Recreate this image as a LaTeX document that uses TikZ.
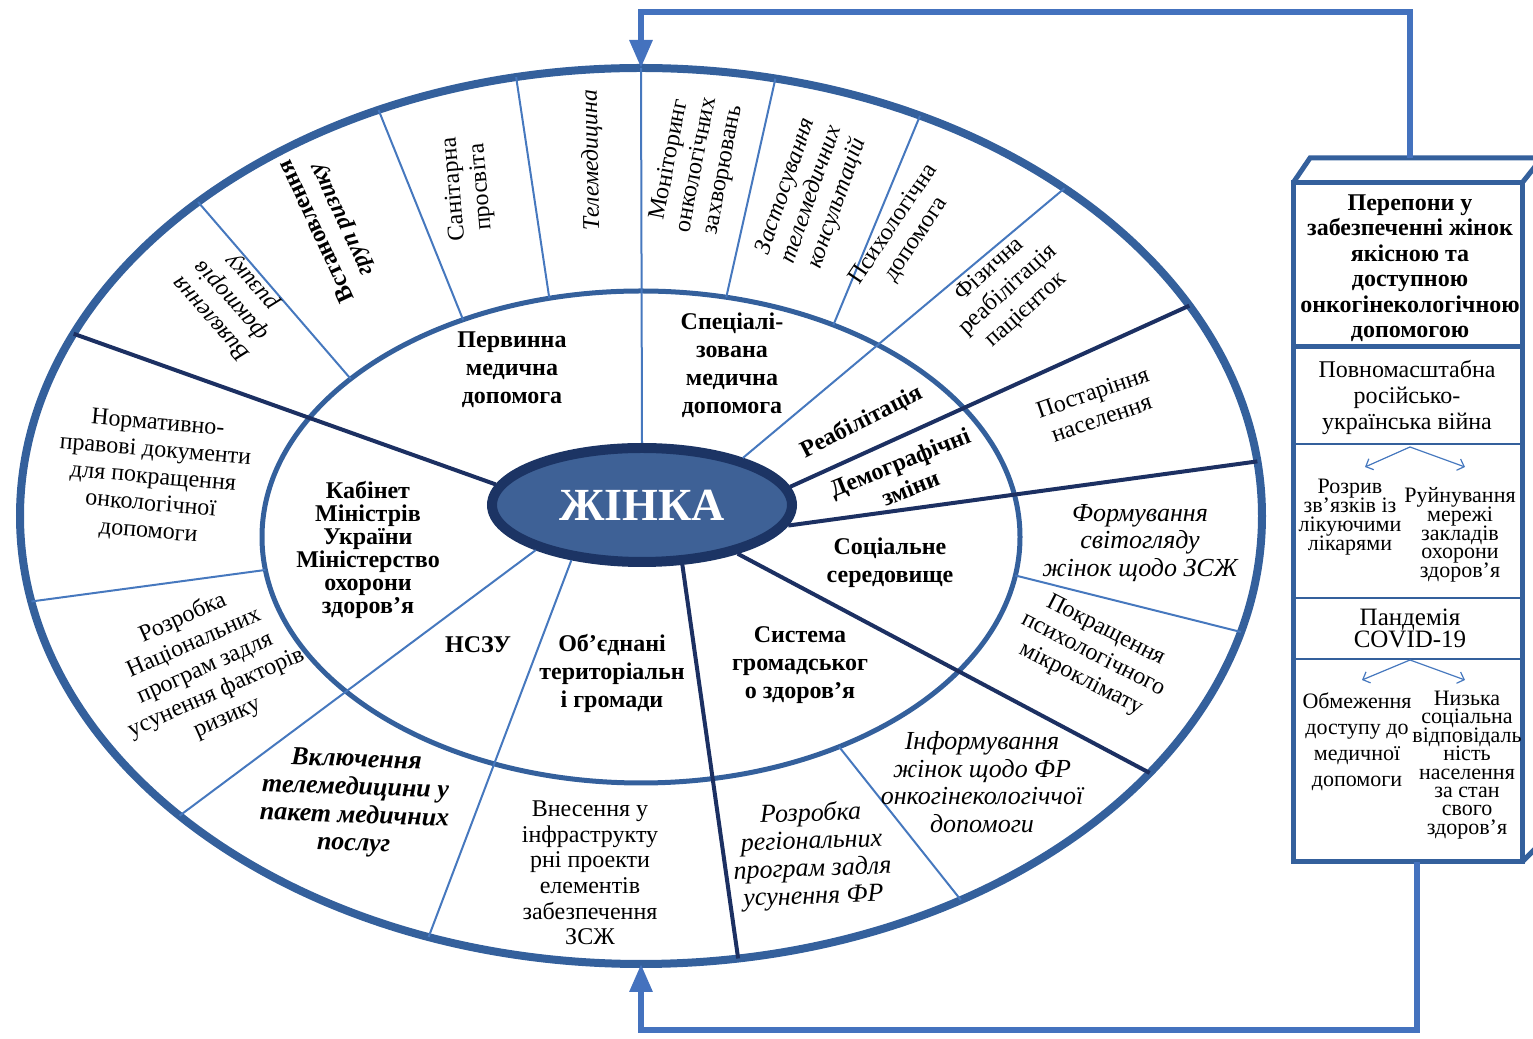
\documentclass[tikz,border=0pt]{standalone}
\usepackage{fontspec}
\setmainfont{Liberation Serif}
\usepackage{tikz}
\usetikzlibrary{arrows.meta, shapes.geometric, calc}

\definecolor{ringblue}{RGB}{52,96,156}
\definecolor{navy}{RGB}{28,48,98}
\definecolor{lineblue}{RGB}{70,120,190}
\definecolor{feedblue}{RGB}{68,114,190}
\definecolor{zhfill}{RGB}{62,97,150}
\definecolor{zhborder}{RGB}{28,52,100}
\newcommand{\tightskip}{\lineskiplimit=-20pt\relax}

\begin{document}
\begin{tikzpicture}[
        x=0.5pt, y=0.5pt,
        ring/.style={draw=ringblue},
        major/.style={draw=navy, line width=2pt},
        minor/.style={draw=lineblue, line width=1pt},
        sect/.style={align=center, inner sep=0pt,
                     font=\fontsize{12}{14}\selectfont\bfseries},
        outer/.style={align=center, inner sep=0pt,
                      font=\fontsize{12}{13.6}\selectfont},
        outerit/.style={outer, font=\fontsize{13}{13.8}\selectfont\itshape},
        boxline/.style={draw=ringblue, line width=2.5pt},
        boxtext/.style={align=center, inner sep=0pt,
                        font=\fontsize{11}{9.4}\selectfont\tightskip},
        feed/.style={draw=feedblue, line width=3pt, -{Triangle[length=14pt, width=11pt]}},
        fan/.style={draw=lineblue, line width=0.6pt, -{Straight Barb[length=3pt, width=6pt]}}
    ]
        \useasboundingbox (0,0) rectangle (1533,1039);

        % Ellipses
        \coordinate (O) at (641,523);
        \coordinate (I) at (641,502);
        \node[ellipse, draw=zhborder, fill=zhfill, line width=5pt,
              minimum width=150pt, minimum height=57pt, inner sep=0pt,
              text=white, font=\fontsize{23}{23}\selectfont\bfseries] (zh) at (642,534) {ЖІНКА};
        \draw[ring, line width=4pt] (O) ellipse [x radius=621, y radius=448];
        \draw[ring, line width=2.5pt] (I) ellipse [x radius=379, y radius=246];
        \coordinate (otop) at ($(O)+(90:621 and 448)$);
        \coordinate (obot) at ($(O)+(270:621 and 448)$);

        % Radial dividers
        \draw[minor] (otop) -- (zh.north);
        \foreach \a/\b in {172/156, 304/279, 333/325, 352/7, 7/28}
            \draw[major] (zh.\a) -- ($(O)+(\b:621 and 448)$);
        \foreach \a/\b in {203/222, 218/250, 25/47}
            \draw[minor] (zh.\a) -- ($(O)+(\b:621 and 448)$);

        % Dividers in the outer ring
        \foreach \a/\b in {140/135.5, 118/115, 104/101.6, 77/77.5, 59.5/63.3,
                           351/345, 301.5/301, 187.7/191}
            \draw[minor] ($(I)+(\a:379 and 246)$) -- ($(O)+(\b:621 and 448)$);

        % Inner ring
        \node[sect] (perv) at (512,669) {Первинна\\медична\\допомога};
        \node[sect] (spec) at (732,674) {Спеціалі-\\зована\\медична\\допомога};
        \node[sect, rotate=27] (reab) at (862,617) {Реабілітація};
        \node[sect, rotate=22] (demo) at (905,564) {Демографічні\\зміни};
        \node[sect] (soc) at (890,476) {Соціальне\\середовище};
        \node[sect] (grom) at (800,374) {Система\\громадськог\\о здоров’я};
        \node[sect] (otg) at (612,366) {Об’єднані\\територіальн\\і громади};
        \node[sect] (nszu) at (478,394) {НСЗУ};
        \node[sect, font=\fontsize{12}{11.5}\selectfont\bfseries\tightskip] (kmu) at (368,489)
            {Кабінет\\Міністрів\\України\\Міністерство\\охорони\\здоров’я};

        % Outer ring
        \node[outerit, rotate=132, font=\fontsize{12}{13.6}\selectfont\itshape] (vyyav) at (232,739)
            {Виявлення\\факторів\\ризику};
        \node[outer, rotate=115, font=\fontsize{12}{13.6}\selectfont\bfseries] (vstan) at (330,814)
            {Встановлення\\\textit{груп ризику}};
        \node[outer, rotate=95] (sanit) at (468,851) {Санітарна\\просвіта};
        \node[outerit, rotate=91, font=\fontsize{12}{13.6}\selectfont\itshape] (telemed) at (592,879)
            {Телемедицина};
        \node[outer, rotate=79] (monit) at (697,874) {Моніторинг\\онкологічних\\захворювань};
        \node[outerit, rotate=71, font=\fontsize{12}{13.6}\selectfont\itshape] (zastos) at (812,844)
            {Застосування\\телемедичних\\консультацій};
        \node[outer, rotate=56] (psych) at (905,807) {Психологічна\\допомога};
        \node[outer, rotate=42] (fiz) at (1008,749) {Фізична\\реабілітація\\пацієнток};
        \node[outer, rotate=19] (postar) at (1097,634) {Постаріння\\населення};
        \node[outerit] (form) at (1140,496) {Формування\\світогляду\\жінок щодо ЗСЖ};
        \node[outer, rotate=-27] (pokr) at (1093,384) {Покращення\\психологічного\\мікроклімату};
        \node[outerit] (inform) at (982,257)
            {Інформування\\жінок щодо ФР\\онкогінекологіччої\\допомоги};
        \node[outerit, rotate=2] (rozreg) at (812,183)
            {Розробка\\регіональних\\програм задля\\усунення ФР};
        \node[outer, font=\fontsize{12}{12.8}\selectfont] (vnes) at (590,166)
            {Внесення у\\інфраструкту\\рні проекти\\елементів\\забезпечення\\ЗСЖ};
        \node[outer, rotate=-2, font=\fontsize{13}{14}\selectfont\bfseries\itshape] (vkl) at (355,236)
            {Включення\\телемедицини у\\пакет медичних\\послуг};
        \node[outer, rotate=24] (roznac) at (205,371)
            {Розробка\\Національних\\програм задля\\усунення факторів\\ризику};
        \node[outer, rotate=-5] (norm) at (153,561)
            {Нормативно-\\правові документи\\для покращення\\онкологічної\\допомоги};

        % Barriers box
        \draw[boxline] (1293,177) rectangle (1522,856);
        \draw[boxline] (1293,856) -- (1310,881) -- (1545,881);
        \draw[boxline] (1522,856) -- (1545,885);
        \draw[boxline] (1522,177) -- (1545,200);
        \draw[boxline] (1293,692) -- (1522,692);
        \foreach \y in {595,441,380}
            \draw[boxline, line width=1.4pt] (1293,\y) -- (1522,\y);

        \node[boxtext, font=\fontsize{12}{12.75}\selectfont\bfseries] (bar) at (1410,771)
            {Перепони у\\забезпеченні жінок\\якісною та\\доступною\\онкогінекологічною\\допомогою};
        \node[boxtext, font=\fontsize{12}{13}\selectfont] (war) at (1407,641)
            {Повномасштабна\\російсько-\\українська війна};
        \node[boxtext] (rozryv) at (1350,522) {Розрив\\зв’язків із\\лікуючими\\лікарями};
        \node[boxtext] (ruin) at (1460,504) {Руйнування\\мережі\\закладів\\охорони\\здоров’я};
        \node[boxtext, font=\fontsize{12.5}{11}\selectfont\tightskip] (covid) at (1410,411) {Пандемія\\COVID-19};
        \node[boxtext, font=\fontsize{11}{13}\selectfont] (obmezh) at (1357,297)
            {Обмеження\\доступу до\\медичної\\допомоги};
        \node[boxtext, font=\fontsize{11}{9.2}\selectfont\tightskip] (nyzka) at (1467,274)
            {Низька\\соціальна\\відповідаль\\ність\\населення\\за стан\\свого\\здоров’я};

        % Fan arrows
        \coordinate (wsplit) at (1410,592);
        \coordinate (w1) at (1365,572);
        \coordinate (w2) at (1465,572);
        \coordinate (csplit) at (1410,379);
        \coordinate (c1) at (1362,359);
        \coordinate (c2) at (1465,359);
        \draw[fan] (wsplit) -- (w1);
        \draw[fan] (wsplit) -- (w2);
        \draw[fan] (csplit) -- (c1);
        \draw[fan] (csplit) -- (c2);

        % Feedback loops
        \coordinate (boxtop) at (1410,881);
        \coordinate (boxbot) at (1417,177);
        \draw[feed] (boxtop) -- ++(0,146) -| (otop);
        \draw[feed] (boxbot) -- ++(0,-168) -| (obot);
    \end{tikzpicture}
\end{document}
